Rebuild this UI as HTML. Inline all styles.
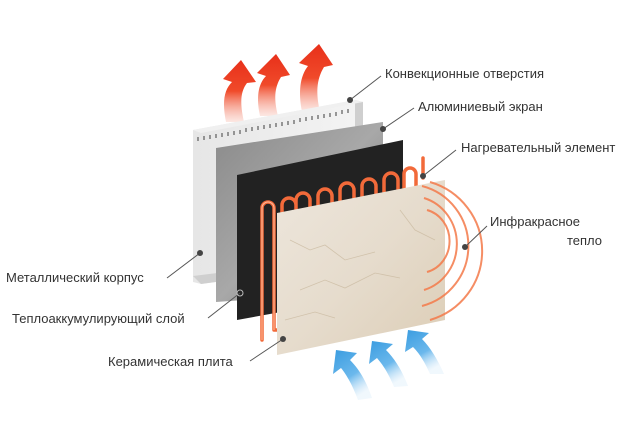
<!DOCTYPE html>
<html><head><meta charset="utf-8"><style>
html,body{margin:0;padding:0;background:#fff;}
svg{display:block}
text{font-family:"Liberation Sans",sans-serif;font-size:13px;fill:#333;}
</style></head><body>
<svg width="640" height="426" viewBox="0 0 640 426" xmlns="http://www.w3.org/2000/svg">
<defs>
<linearGradient id="red" x1="0" y1="1" x2="0" y2="0"><stop offset="0" stop-color="#f6b0a0" stop-opacity="0.3"/><stop offset="0.5" stop-color="#f04a2a"/><stop offset="1" stop-color="#e8301a"/></linearGradient>
<linearGradient id="blue" x1="0" y1="0" x2="0.5" y2="1"><stop offset="0" stop-color="#3a9ce0"/><stop offset="0.6" stop-color="#6bb8ec"/><stop offset="1" stop-color="#cfe7f8" stop-opacity="0.3"/></linearGradient>
<linearGradient id="alu" x1="0" y1="0" x2="1" y2="1"><stop offset="0" stop-color="#8a8a8a"/><stop offset="0.5" stop-color="#a8a8a8"/><stop offset="1" stop-color="#6d6d6d"/></linearGradient>
<linearGradient id="cer" x1="0" y1="0" x2="1" y2="1"><stop offset="0" stop-color="#ede6dc"/><stop offset="0.5" stop-color="#e6dccd"/><stop offset="1" stop-color="#dccdb6"/></linearGradient>
<linearGradient id="case" x1="0" y1="0" x2="1" y2="0"><stop offset="0" stop-color="#e6e6e6"/><stop offset="1" stop-color="#f4f4f4"/></linearGradient>
</defs>

<!-- red arrows -->
<g fill="url(#red)">
<path d="M226,122 C222,102 224,90 232,82 L223,79 L241,60 L256,82 L247,83 C240,92 240,104 244,122 Z"/>
<path d="M260,116 C256,98 258,84 266,76 L257,73 L276,54 L290,75 L281,77 C274,88 274,100 278,116 Z"/>
<path d="M302,112 C298,92 300,76 308,66 L299,63 L319,44 L333,65 L324,67 C316,80 316,94 320,112 Z"/>
</g>

<!-- metal case -->
<polygon points="193,130 355,100 363,102 363,262 201,284 193,282" fill="url(#case)"/>
<polygon points="355,100 363,102 363,262 355,264" fill="#cfcfcf"/>
<polygon points="193,276 201,284 363,262 355,256" fill="#cfcfcf"/>
<polygon points="193,130 355,100 363,102 201,133" fill="#f0f0f0"/>
<g stroke="#666" stroke-width="1.3">
<path d="M198,137v4M204,136v4M210,135v4M216,134v4M222,133v4M228,132v4M234,131v4M240,130v4M246,128v4M252,127v4M258,126v4M264,125v4M270,124v4M276,123v4M282,122v4M288,121v4M294,120v4M300,118v4M306,117v4M312,116v4M318,115v4M324,114v4M330,113v4M336,112v4M342,110v4M348,109v4"/>
</g>

<!-- aluminium -->
<polygon points="216,148 383,122 383,290 216,302" fill="url(#alu)"/>
<!-- black -->
<polygon points="237,175 403,140 403,290 237,320" fill="#222"/>

<!-- heating element -->
<g fill="none" stroke="#f26a3a" stroke-width="3.5" stroke-linecap="round">
<path d="M262,340 V208 a6,6 0 0 1 12,0 V330 M274,330 h10 M282,220 V205 a7,7 0 0 1 14,0 V215 M296,215 V200 a7,7 0 0 1 14,0 M310,200 V212 M318,210 V196 a7,7 0 0 1 14,0 V208 M340,206 V190 a7,7 0 0 1 14,0 V202 M362,200 V186 a7,7 0 0 1 14,0 V196 M384,194 V180 a7,7 0 0 1 14,0 V190 M404,188 V174 a6,6 0 0 1 12,0 V186 M423,158 V178"/>
</g>
<g fill="none" stroke="#ffd2b8" stroke-width="1" opacity="0.8">
<path d="M262,340 V208 a6,6 0 0 1 12,0 V330"/>
</g>

<!-- ceramic -->
<polygon points="277,213 445,180 445,320 277,355" fill="url(#cer)"/>
<g fill="none" stroke="#c8b79c" stroke-width="0.8" opacity="0.7">
<path d="M290,240 l20,10 l15,-5 l20,15 l30,-8 M300,290 l25,-10 l20,8 l30,-15 l25,5 M285,320 l30,-8 l20,6 M400,210 l15,20 l20,10"/>
</g>

<!-- IR arcs -->
<g fill="none" stroke="#f47a4a" stroke-width="2" opacity="0.85">
<path d="M427,210 A30,32 0 0 1 427,272"/>
<path d="M424,198 A46,48 0 0 1 424,290"/>
<path d="M422,186 A62,62 0 0 1 422,306"/>
<path d="M430,182 A73,72 0 0 1 430,320"/>
</g>

<!-- blue arrows -->
<g fill="url(#blue)">
<path d="M358,400 C352,384 346,374 341,368 L333,374 L336,350 L357,353 L350,360 C358,368 366,380 372,398 Z"/>
<path d="M394,387 C388,372 382,364 377,358 L369,364 L372,341 L393,344 L386,350 C394,358 402,370 408,386 Z"/>
<path d="M430,374 C424,360 418,352 413,347 L405,352 L408,330 L429,333 L422,339 C430,347 438,360 444,374 Z"/>
</g>

<!-- leader lines -->
<g stroke="#555" stroke-width="1" fill="none">
<path d="M350,100 L381,76"/>
<path d="M383,129 L414,108"/>
<path d="M423,176 L456,150"/>
<path d="M465,247 L487,226"/>
<path d="M200,253 L167,278"/>
<path d="M240,293 L208,318"/>
<path d="M283,339 L250,361"/>
</g>
<g fill="#444">
<circle cx="350" cy="100" r="3"/><circle cx="383" cy="129" r="3"/><circle cx="423" cy="176" r="3"/>
<circle cx="465" cy="247" r="3"/><circle cx="200" cy="253" r="3"/><circle cx="283" cy="339" r="3"/>
</g>
<circle cx="240" cy="293" r="3" fill="none" stroke="#bbb"/>

<!-- labels -->
<text x="385" y="78">Конвекционные отверстия</text>
<text x="418" y="111">Алюминиевый экран</text>
<text x="461" y="152">Нагревательный элемент</text>
<text x="490" y="226">Инфракрасное</text>
<text x="602" y="245" text-anchor="end">тепло</text>
<text x="6" y="282">Металлический корпус</text>
<text x="12" y="323">Теплоаккумулирующий слой</text>
<text x="108" y="366">Керамическая плита</text>
</svg>
</body></html>
